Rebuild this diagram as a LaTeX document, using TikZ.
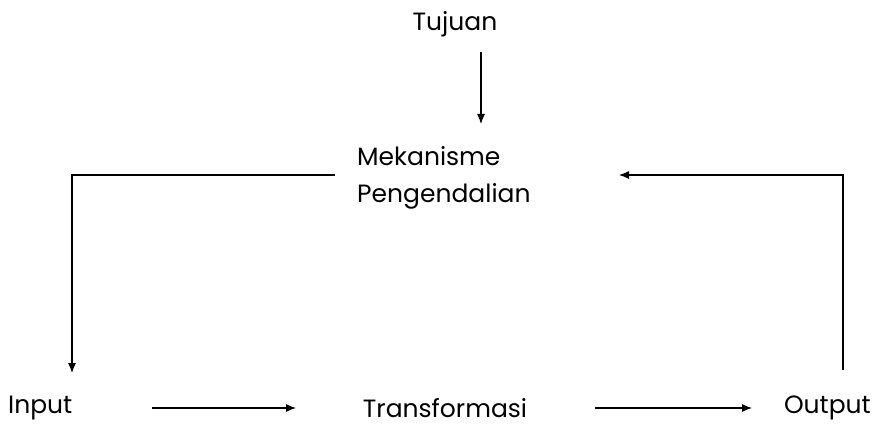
\documentclass[tikz,border=0pt]{standalone}
\usepackage{fontspec}
\setmainfont{Poppins}
\usetikzlibrary{positioning}
\usetikzlibrary{calc}
\usetikzlibrary{arrows.meta}

\begin{document}
\begin{tikzpicture}[x=1pt, y=-1pt,
		lbl/.style={font=\fontsize{25}{37}\selectfont, inner sep=0pt},
		panah/.style={-{Latex[length=10pt,width=8pt]}, line width=1.1pt}]
			\useasboundingbox (0,0) rectangle (872,425);
			%\draw[step=50,gray,very thin] (0,0) grid (872,425);
			\node[lbl] (tujuan) at (455,24) {Tujuan};
			\node[lbl, align=left, anchor=west] (mekanisme) at (357,178) {Mekanisme\\Pengendalian};
			\node[lbl, anchor=west] (input) at (8,408) {Input};
			\node[lbl] (transformasi) at (445,408) {Transformasi};
			\node[lbl, anchor=east] (output) at (871,408) {Output};
			\coordinate (tA) at (481,52);
			\coordinate (tB) at (481,124);
			\coordinate (mkiri) at (335,175);
			\coordinate (mkanan) at (619,175);
			\coordinate (inatas) at (72,373);
			\coordinate (outatas) at (843,370);
			\coordinate (inkanan) at (152,408);
			\coordinate (trkiri) at (296,408);
			\coordinate (trkanan) at (595,408);
			\coordinate (outkiri) at (752,408);
			\draw[panah] (tA) -- (tB);
			\draw[panah] (mkiri) -| (inatas);
			\draw[panah] (outatas) |- (mkanan);
			\draw[panah] (inkanan) -- (trkiri);
			\draw[panah] (trkanan) -- (outkiri);
		\end{tikzpicture}
\end{document}
